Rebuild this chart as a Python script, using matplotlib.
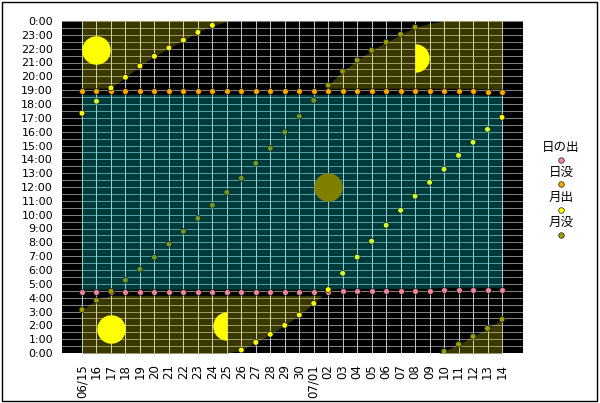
import numpy as np
import matplotlib.pyplot as plt
from matplotlib.path import Path
from matplotlib.transforms import Affine2D

# 日付 (06/15 - 07/14)
dates = ["06/15", "16", "17", "18", "19", "20", "21", "22", "23", "24",
         "25", "26", "27", "28", "29", "30", "07/01", "02", "03", "04",
         "05", "06", "07", "08", "09", "10", "11", "12", "13", "14"]

# 日の出 / 日没
sunrise = ["4:23"] * 18 + ["4:27"] * 7 + ["4:32"] * 5
sunset = ["18:55"] * 28 + ["18:51"] * 2

# 月出 / 月没 (None = その日は無し)
moonrise = ["17:20", "18:12", "19:10", "19:56", "20:45", "21:27", "22:03", "22:37",
            "23:11", "23:41", None, "0:13", "0:46", "1:21", "2:00", "2:45", "3:35",
            "4:35", "5:46", "6:56", "8:05", "9:14", "10:19", "11:20", "12:20",
            "13:17", "14:17", "15:14", "16:10", "17:02"]
moonset = ["3:08", "3:49", "4:28", "5:16", "6:03", "6:55", "7:52", "8:48", "9:44",
           "10:41", "11:37", "12:38", "13:43", "14:48", "15:58", "17:07", "18:16",
           "19:22", "20:22", "21:10", "21:53", "22:28", "23:02", "23:33", None,
           "0:07", "0:38", "1:12", "1:47", "2:26"]

# 月齢マーク
phase_day = [1, 2, 10, 17, 23]
phase_hour = [21.92, 1.75, 1.95, 12.03, 21.35]
phase_kind = ["full", "full", "last", "new", "first"]

BG, TEAL, OLIVE = "#000000", "#003a3a", "#383800"
DELTA = 0.22


def to_h(lst):
    out = []
    for t in lst:
        if t is None:
            out.append(np.nan)
        else:
            h, m = t.split(":")
            out.append(int(h) + int(m) / 60)
    return np.array(out)


def unwrap(v):
    ok = ~np.isnan(v)
    xv, vv = x[ok], v[ok]
    vv = vv + 24 * np.concatenate([[0], np.cumsum(np.diff(vv) < 0)])
    return np.interp(x, xv, vv)


x = np.arange(len(dates))
sr, ss = to_h(sunrise), to_h(sunset)
mr, ms = to_h(moonrise), to_h(moonset)

fig = plt.figure(figsize=(6, 4.03), dpi=100)
ax = fig.add_axes([62 / 600, 50 / 403, 461 / 600, 332 / 403])
ax.set_facecolor(BG)
xmin, xmax = -1.38, 30.45

# 月が出ている夜間の帯
R, S = unwrap(mr), unwrap(ms)
olive_paths = []
for k in (-48, -24, 0):
    lo, hi = R + k, S + k + 24
    for a, b in ((np.zeros(len(x)), sr - DELTA), (ss + DELTA, np.full(len(x), 24.0))):
        y0, y1 = np.maximum(lo, a), np.minimum(hi, b)
        c = ax.fill_between(x, y0, y1, where=y1 > y0, interpolate=True,
                            color=OLIVE, lw=0, zorder=1)
        olive_paths += c.get_paths()

# 昼間の帯
teal = ax.fill_between(x, sr + DELTA, ss - DELTA, color=TEAL, lw=0, zorder=1.5)


def grid(ch, cv, clip=None, z=2):
    h = ax.hlines(np.arange(0, 24.01, 0.5), xmin, xmax, colors=ch, lw=0.72,
                  antialiased=False, zorder=z)
    v = ax.vlines(x, 0, 24, colors=cv, lw=0.72, antialiased=False, zorder=z)
    if clip is not None:
        for lc in (h, v):
            lc.set_clip_path(clip, ax.transData)


grid("#808080", "#c0c0c0")
grid("#9c9860", "#d0d098", Path.make_compound_path(*olive_paths), 2.1)
grid("#50a0a0", "#90d0d0", Path.make_compound_path(*teal.get_paths()), 2.2)

# 月齢
half_r = Path.unit_circle_righthalf()
half_l = half_r.transformed(Affine2D().scale(-1, 1))
for d, h, kind in zip(phase_day, phase_hour, phase_kind):
    mk = {"full": "o", "new": "o", "first": half_r, "last": half_l}[kind]
    col = "#808000" if kind == "new" else "#ffff00"
    ax.plot(d, h, marker=mk, ms=20.5, color=col, mew=0, ls="none", zorder=4)

# 点
inner = (x > 0) & (x < x[-1])
day_r = inner & (mr > sr + DELTA) & (mr < ss - DELTA)
day_s = inner & (ms > sr + DELTA) & (ms < ss - DELTA)
kw = dict(s=17, edgecolors="#202020", linewidths=0.5, zorder=5)
ax.scatter(x, sr, c="#f4869a", **kw)
ax.scatter(x, ss, c="#ffaa00", **kw)
ax.scatter(x, mr, c=np.where(day_r, "#ccff33", "#ffff00"), **kw)
ax.scatter(x, ms, c=np.where(day_s, "#6b9a2c", "#9c9c00"), **kw)

ax.set_xlim(xmin, xmax)
ax.set_ylim(0, 24)
ax.set_yticks(range(25))
ax.set_yticklabels([f"{h % 24}:00" for h in range(25)], fontsize=8)
ax.set_xticks(x)
ax.set_xticklabels(dates, rotation=90, fontsize=8.5)
ax.tick_params(length=0)
ax.tick_params(axis="y", pad=6.5)
ax.tick_params(axis="x", pad=8)
for sp in ax.spines.values():
    sp.set_visible(False)

# 凡例
leg_labels = ["日の出", "日没", "月出", "月没"]
leg_colors = ["#f4869a", "#ffaa00", "#ffff00", "#9c9c00"]
for i, (lab, col) in enumerate(zip(leg_labels, leg_colors)):
    ty = 147 + 25 * i
    fig.text(561 / 600, 1 - ty / 403, lab, ha="center", va="center", fontsize=9,
             family=["Noto Sans CJK JP", "DejaVu Sans"])
    fig.add_artist(plt.Line2D([561 / 600], [1 - (ty + 12.5) / 403], marker="o",
                              ms=4, mfc=col, mec="#202020", mew=0.5,
                              transform=fig.transFigure))

fig.add_artist(plt.Rectangle((1.5 / 600, 2 / 403), 595.5 / 600, 399.5 / 403,
                             fill=False, ec="black", lw=1, transform=fig.transFigure))

plt.savefig("out.png")
